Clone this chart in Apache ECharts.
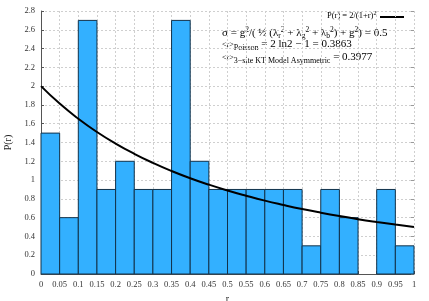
<!DOCTYPE html>
<html><head><meta charset="utf-8">
<script src="https://cdn.jsdelivr.net/npm/echarts@6/dist/echarts.min.js"></script>
<style>html,body{margin:0;padding:0;background:#fff}#c{width:429px;height:301px}</style>
</head><body><div id="c"></div>
<script>
// Histogram bins (left edges) and values
const binStarts = [0,0.05,0.1,0.15,0.2,0.25,0.3,0.35,0.4,0.45,0.5,0.55,0.6,0.65,0.7,0.75,0.8,0.85,0.9,0.95];
const binWidth = 0.05;
const binValues = [1.5,0.6,2.7,0.9,1.2,0.9,0.9,2.7,1.2,0.9,0.9,0.9,0.9,0.9,0.3,0.9,0.6,0,0.9,0.3];
// Curve P(r) = 2/(1+r)^2, values read at r steps
const curveR = [0,0.05,0.1,0.15,0.2,0.25,0.3,0.35,0.4,0.45,0.5,0.55,0.6,0.65,0.7,0.75,0.8,0.85,0.9,0.95,1];
const curveP = [2,1.814,1.653,1.512,1.389,1.28,1.183,1.097,1.02,0.951,0.889,0.833,0.781,0.735,0.692,0.653,0.617,0.584,0.554,0.526,0.5];

const FONT = '"Liberation Serif", "DejaVu Serif", serif';
const chart = echarts.init(document.getElementById('c'), null, {renderer:'canvas'});
const barData = binStarts.map((s,i)=>[s, s+binWidth, binValues[i]]);
const curveData = curveR.map((r,i)=>[r, curveP[i]]);

const gridLine = {show:true, lineStyle:{color:'#cfcfcf', type:[2,2], width:1}};
const C = '#111';
const main = {fontSize:11, lineHeight:14, fontFamily:FONT, color:C};
const sup = {fontSize:7.5, verticalAlign:'top', lineHeight:14, fontFamily:FONT, color:C};
const sub = {fontSize:7.5, verticalAlign:'bottom', lineHeight:14, fontFamily:FONT, color:C};
const small = {fontSize:8, lineHeight:14, fontFamily:FONT, color:C};
const sub2 = {fontSize:8, verticalAlign:'bottom', lineHeight:14, fontFamily:FONT, color:C};

chart.setOption({
  animation:false,
  grid:{left:41, right:15, top:11, bottom:27, outerBoundsMode:'none', containLabel:false},
  xAxis:{type:'value', min:0, max:1, interval:0.05,
    name:'r', nameLocation:'middle', nameGap:20,
    nameTextStyle:{fontFamily:FONT, fontSize:10, color:'#222'},
    axisLine:{show:true, onZero:false, lineStyle:{color:'#555', width:1}},
    axisTick:{show:true, inside:true, length:3, lineStyle:{color:'#555'}},
    axisLabel:{fontFamily:FONT, fontSize:8.5, color:'#333', margin:6},
    splitLine:gridLine},
  yAxis:[{type:'value', min:0, max:2.8, interval:0.2,
    name:'P(r)', nameLocation:'middle', nameGap:28, nameRotate:90,
    nameTextStyle:{fontFamily:FONT, fontSize:10, color:'#222'},
    axisLine:{show:true, lineStyle:{color:'#555', width:1}},
    axisTick:{show:true, inside:true, length:3, lineStyle:{color:'#555'}},
    axisLabel:{fontFamily:FONT, fontSize:8.5, color:'#333', margin:6},
    splitLine:gridLine},
    {type:'value', min:0, max:2.8, interval:0.2, position:'right',
    axisLine:{show:false}, axisTick:{show:true, inside:true, length:3, lineStyle:{color:'#999'}},
    axisLabel:{show:false}, splitLine:{show:false}}],
  series:[
    {type:'custom', data:barData, encode:{x:[0,1], y:2},
     renderItem:function(params, api){
       if (!(api.value(2) > 0)) return null;
       const p0 = api.coord([api.value(0), api.value(2)]);
       const p1 = api.coord([api.value(1), 0]);
       return {type:'rect', shape:{x:p0[0], y:p0[1], width:p1[0]-p0[0], height:p1[1]-p0[1]},
         style:{fill:'#33b0ff', stroke:'#12324a', lineWidth:1}};
     }, z:2},
    {type:'line', data:curveData, smooth:true, showSymbol:false,
     lineStyle:{color:'#000', width:2}, z:3}
  ],
  graphic:[
    {type:'text', left:327, top:10, style:{rich:{m:{fontSize:8.5, lineHeight:12, fontFamily:FONT, color:C}, s:{fontSize:6, verticalAlign:'top', lineHeight:12, fontFamily:FONT, color:C}}, text:'{m|P(r) = 2/(1+r)}{s|2}'}},
    {type:'line', shape:{x1:380, y1:17, x2:404, y2:17}, style:{stroke:'#000', lineWidth:2}},
    {type:'text', left:222, top:26, style:{rich:{m:main, p:sup, b:sub}, text:'{m|σ = g}{p|2}{m|/( ½ (λ}{b|r}{p|2}{m| + λ}{b|g}{p|2}{m| + λ}{b|b}{p|2}{m|) + g}{p|2}{m|) = 0.5}'}},
    {type:'text', left:222, top:39, style:{rich:{m:main, s:small, b:sub2}, text:'{s|<r>}{b|Poisson}{m| = 2 ln2 − 1 = 0.3863}'}},
    {type:'text', left:222, top:52, style:{rich:{m:main, s:small, b:sub2}, text:'{s|<r>}{b|3−site KT Model Asymmetric}{m| = 0.3977}'}}
  ]
});
</script></body></html>
